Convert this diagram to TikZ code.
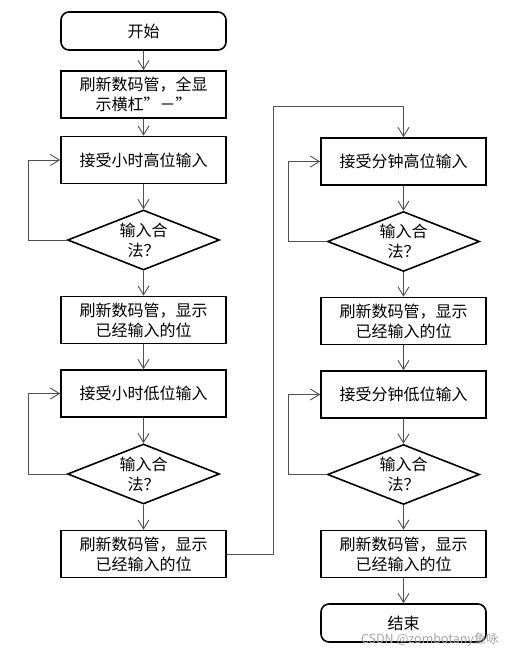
\documentclass[tikz,border=0pt]{standalone}
\usepackage{fontspec}
\setmainfont{Noto Sans CJK SC}
\usepackage{xcolor}
\definecolor{linkgray}{HTML}{505050}
\usetikzlibrary{arrows.meta, shapes.geometric}

\begin{document}
\begin{tikzpicture}[
    x=1pt, y=-1pt,
    every node/.style={font=\fontsize{16}{20}\selectfont, align=center},
    box/.style={draw, line width=1.6pt, minimum width=165pt,
                minimum height=47pt, inner sep=0pt},
    terminal/.style={box, rounded corners=8pt, minimum height=38pt},
    decision/.style={draw, line width=1.6pt, diamond, aspect=2.5,
                     minimum width=152pt, minimum height=60pt, inner sep=0pt},
    link/.style={linkgray, line width=0.9pt,
                 -{Straight Barb[length=9pt, width=11pt]}}
  ]
    \useasboundingbox (0,0) rectangle (513,653);

    % Left column: hours
    \node[terminal] (start) at (143.5,31)    {开始};
    \node[box]      (L-1)   at (143.5,94.5)
      {刷新数码管，全显\\示横杠{\addfontfeature{RawFeature=+fwid}”-”}};
    \node[box]      (L-2)   at (143.5,160)   {接受小时高位输入};
    \node[decision] (LD-1)  at (143.5,240)   {输入合\\法？};
    \node[box]      (L-3)   at (143.5,320)   {刷新数码管，显示\\已经输入的位};
    \node[box]      (L-4)   at (143.5,393.5) {接受小时低位输入};
    \node[decision] (LD-2)  at (143.5,474)   {输入合\\法？};
    \node[box]      (L-5)   at (143.5,554)   {刷新数码管，显示\\已经输入的位};

    % Right column: minutes
    \node[box]      (R-1)   at (403.5,161.5) {接受分钟高位输入};
    \node[decision] (RD-1)  at (403.5,241.5) {输入合\\法？};
    \node[box]      (R-2)   at (403.5,321)   {刷新数码管，显示\\已经输入的位};
    \node[box]      (R-3)   at (403.5,394.5) {接受分钟低位输入};
    \node[decision] (RD-2)  at (403.5,474.5) {输入合\\法？};
    \node[box]      (R-4)   at (403.5,554)   {刷新数码管，显示\\已经输入的位};
    \node[terminal] (stop)  at (403.5,623)   {结束};

    % Straight flow
    \foreach \a/\b in {start/L-1, L-1/L-2, L-2/LD-1, LD-1/L-3, L-3/L-4,
                       L-4/LD-2, LD-2/L-5, R-1/RD-1, RD-1/R-2, R-2/R-3,
                       R-3/RD-2, RD-2/R-4, R-4/stop}
      \draw[link] (\a) -- (\b);

    % Retry loops
    \draw[link] (LD-1.west) -- ++(-38,0) |- (L-2.west);
    \draw[link] (LD-2.west) -- ++(-38,0) |- (L-4.west);
    \draw[link] (RD-1.west) -- ++(-38,0) |- (R-1.west);
    \draw[link] (RD-2.west) -- ++(-38,0) |- (R-3.west);

    % Hours -> minutes
    \coordinate (turn) at (403.5,106);
    \draw[link] (L-5.east) -- ++(47,0) |- (turn) -- (R-1.north);

    % Watermark
    \node[font=\fontsize{12.5}{13}\selectfont, text=gray!70, inner sep=0pt]
      (mark) at (430,640) {CSDN @zombotany鱼咏};
\end{tikzpicture}
\end{document}
